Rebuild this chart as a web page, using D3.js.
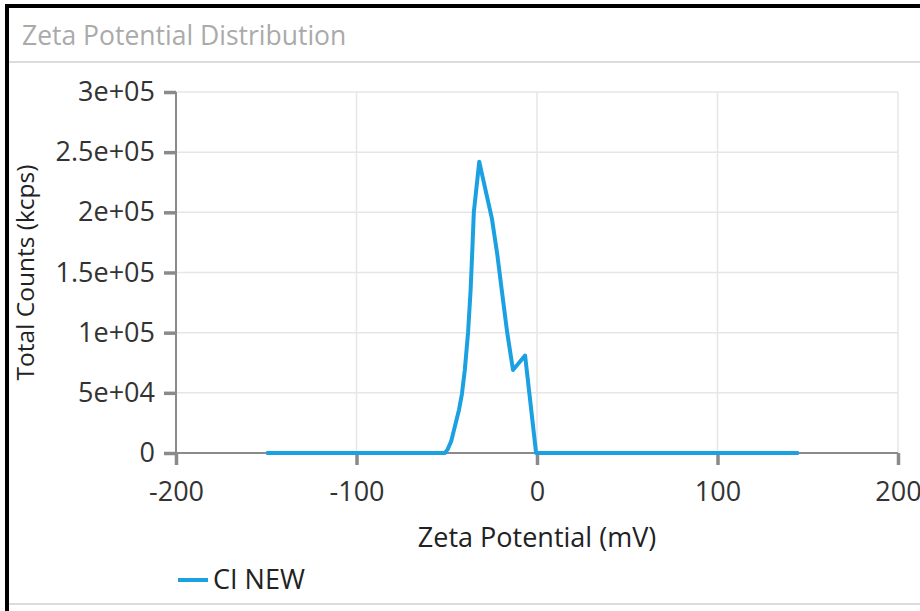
<!DOCTYPE html>
<html>
<head>
<meta charset="utf-8">
<script src="https://cdn.jsdelivr.net/npm/d3@7"></script>
<style>
  html, body { margin: 0; padding: 0; background: #fff; }
  svg { display: block; font-family: "Open Sans", "Noto Sans", sans-serif; }
</style>
</head>
<body>
<svg id="chart" width="920" height="611"></svg>
<script>
// series
const seriesName = 'CI NEW';
const zeta = [-150, -51, -49.5, -47.5, -46, -43.2, -41.6, -40, -38.2, -36.8, -35.8, -35, -32, -30.5, -28, -25, -22, -19.5, -16.5, -13.3, -6.6, -0.5, 145];
const counts = [0, 0, 3000, 10000, 19000, 36000, 49000, 69000, 100000, 135000, 170000, 200000, 242000, 232000, 215000, 195000, 165000, 135000, 100000, 69000, 81000, 0, 0];

const xTicks = [-200, -100, 0, 100, 200];
const xTickLabels = ['-200', '-100', '0', '100', '200'];
const yTicks = [0, 50000, 100000, 150000, 200000, 250000, 300000];
const yTickLabels = ['0', '5e+04', '1e+05', '1.5e+05', '2e+05', '2.5e+05', '3e+05'];

const W = 920, H = 611;
const margin = { left: 176, top: 92, right: 22, bottom: 158 };
const lineColor = '#1ba1e2';

const svg = d3.select('#chart');

// frame
svg.append('line').attr('x1', 5).attr('x2', W).attr('y1', 6).attr('y2', 6)
  .attr('stroke', '#000').attr('stroke-width', 4);
svg.append('line').attr('x1', 7).attr('x2', 7).attr('y1', 4).attr('y2', H)
  .attr('stroke', '#000').attr('stroke-width', 4);
svg.append('line').attr('x1', 9).attr('x2', W).attr('y1', 62).attr('y2', 62)
  .attr('stroke', '#dcdcdc').attr('stroke-width', 2);
svg.append('line').attr('x1', 9).attr('x2', W).attr('y1', 604).attr('y2', 604)
  .attr('stroke', '#dcdcdc').attr('stroke-width', 2);

svg.append('text').attr('x', 22).attr('y', 45)
  .attr('font-size', 26.5).attr('fill', '#aaa')
  .text('Zeta Potential Distribution');

const x = d3.scaleLinear().domain([-200, 200]).range([margin.left, W - margin.right]);
const y = d3.scaleLinear().domain([0, 300000]).range([H - margin.bottom, margin.top]);

// grid
const grid = svg.append('g');
grid.selectAll('.gy').data(yTicks.slice(1)).enter().append('line')
  .attr('x1', x(-200)).attr('x2', x(200))
  .attr('y1', d => y(d)).attr('y2', d => y(d))
  .attr('stroke', '#e6e6e6').attr('stroke-width', 1.5);
grid.selectAll('.gx').data(xTicks.slice(1)).enter().append('line')
  .attr('x1', d => x(d)).attr('x2', d => x(d))
  .attr('y1', y(0)).attr('y2', y(300000))
  .attr('stroke', '#e6e6e6').attr('stroke-width', 1.5);

// axes
const xAxis = svg.append('g')
  .attr('transform', `translate(0,${y(0)})`)
  .call(d3.axisBottom(x).tickValues(xTicks).tickFormat((d, i) => xTickLabels[i]).tickSize(12).tickPadding(17));
const yAxis = svg.append('g')
  .attr('transform', `translate(${x(-200)},0)`)
  .call(d3.axisLeft(y).tickValues(yTicks).tickFormat((d, i) => yTickLabels[i]).tickSize(12).tickPadding(9));

[xAxis, yAxis].forEach(a => {
  a.select('.domain').attr('stroke', '#8a8a8a').attr('stroke-width', 2);
  a.selectAll('.tick line').attr('stroke', '#8a8a8a').attr('stroke-width', 3.5);
  a.selectAll('.tick text').attr('font-size', 27).attr('fill', '#333')
    .attr('font-family', '"Open Sans", sans-serif');
});
xAxis.select('.domain').attr('d', `M${x(-200)},0H${x(200)}`);
yAxis.select('.domain').attr('d', `M0,${y(300000)}V${y(0)}`);

// axis titles
svg.append('text').attr('x', x(0)).attr('y', 547)
  .attr('text-anchor', 'middle').attr('font-size', 27).attr('fill', '#222')
  .text('Zeta Potential (mV)');
svg.append('text')
  .attr('transform', `translate(34,${(y(0) + y(300000)) / 2}) rotate(-90)`)
  .attr('text-anchor', 'middle').attr('font-size', 24.5).attr('fill', '#222')
  .text('Total Counts (kcps)');

// series
const pts = zeta.map((v, i) => [v, counts[i]]);
const line = d3.line().x(d => x(d[0])).y(d => y(d[1]));
svg.append('path').datum(pts)
  .attr('d', line)
  .attr('fill', 'none').attr('stroke', lineColor)
  .attr('stroke-width', 4).attr('stroke-linejoin', 'round');

// legend
svg.append('line').attr('x1', 178).attr('x2', 208).attr('y1', 580).attr('y2', 580)
  .attr('stroke', lineColor).attr('stroke-width', 4);
svg.append('text').attr('x', 213).attr('y', 589)
  .attr('font-size', 27).attr('fill', '#222').text(seriesName);
</script>
</body>
</html>
